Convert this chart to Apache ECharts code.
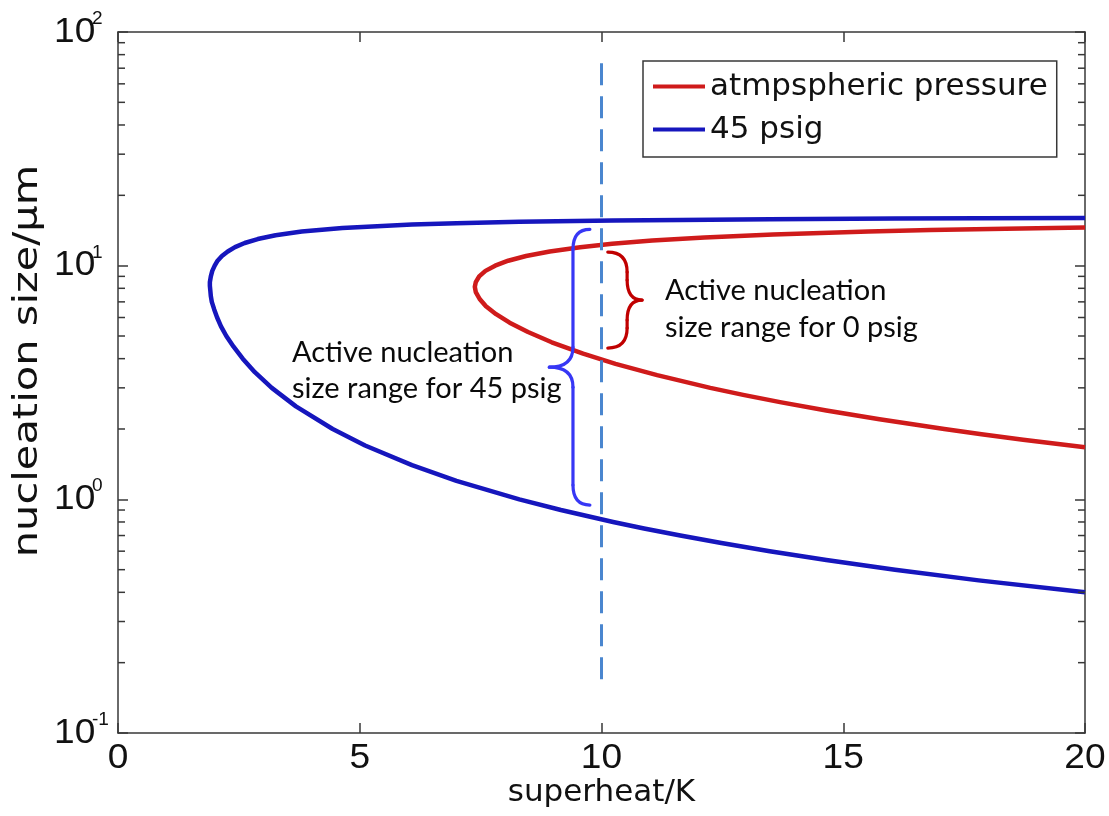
<!DOCTYPE html>
<html>
<head>
<meta charset="utf-8">
<script src="https://cdn.jsdelivr.net/npm/echarts@6/dist/echarts.min.js"></script>
<style>
  html, body { margin: 0; padding: 0; background: #fff; }
  #chart { width: 1109px; height: 816px; }
</style>
</head>
<body>
<div id="chart"></div>
<script>
// Nucleation size limits vs. wall superheat, for two system pressures.
// Each curve runs from its upper branch (large sizes) round the turning point to its lower branch.
const atmSuperheat = [20.0, 18.36, 16.8, 15.52, 13.55, 12.13, 11.05, 10.22, 9.56, 8.93, 8.44, 8.07, 7.80, 7.60, 7.47, 7.40,
                      7.38, 7.40, 7.48, 7.61, 7.82, 8.10, 8.48, 8.97, 9.62, 10.29, 11.15, 12.25, 12.93,
                      13.72, 14.65, 15.75, 17.09, 17.86, 18.72, 20.0];
const atmSize      = [14.57, 14.4, 14.2, 14.0, 13.6, 13.2, 12.8, 12.4, 12.0, 11.5, 11.0, 10.5, 10.0, 9.5, 9.0, 8.5,
                      8.12, 7.7, 7.2, 6.7, 6.2, 5.7, 5.2, 4.7, 4.2, 3.8, 3.4, 3.0, 2.8,
                      2.6, 2.4, 2.2, 2.0, 1.9, 1.8, 1.67];

const psigSuperheat = [20.0, 17.8, 16.07, 13.48, 11.63, 10.24, 8.30, 7.00, 6.08, 4.64, 3.80, 3.26, 2.89, 2.62, 2.42,
                       2.27, 2.15, 2.06, 2.00, 1.95, 1.92, 1.90, 1.90, 1.91, 1.92, 1.94, 1.99, 2.05, 2.13, 2.24,
                       2.39, 2.58, 2.83, 3.18, 3.68, 4.44, 5.11, 6.08, 7.00, 8.30, 9.16, 10.24, 10.88, 11.63,
                       12.48, 13.48, 14.65, 16.07, 17.8, 20.0];
const psigSize      = [16.0, 15.95, 15.9, 15.8, 15.7, 15.6, 15.4, 15.2, 15.0, 14.5, 14.0, 13.5, 13.0, 12.5, 12.0,
                       11.5, 11.0, 10.5, 10.0, 9.5, 9.0, 8.5, 8.2, 7.8, 7.4, 7.0, 6.5, 6.0, 5.5, 5.0,
                       4.5, 4.0, 3.5, 3.0, 2.5, 2.0, 1.7, 1.4, 1.2, 1.0, 0.9, 0.8, 0.75, 0.7,
                       0.65, 0.6, 0.55, 0.5, 0.45, 0.40];

// Superheat axis labels
const xTickValues = [0, 5, 10, 15, 20];
// Logarithmic size axis: labelled decades and minor ticks
const yDecades = [0.1, 1, 10, 100];
const yMinorTicks = [0.2, 0.3, 0.4, 0.5, 0.6, 0.7, 0.8, 0.9,
                     2, 3, 4, 5, 6, 7, 8, 9,
                     20, 30, 40, 50, 60, 70, 80, 90];

// Reference superheat (dashed line) and its vertical extent
const refSuperheat = 10;
const refSizeSpan = [0.17, 76];

// Curly braces marking the active size ranges: [end x, spine x, tip x, top size, bottom size]
const brace45 = [9.76, 9.41, 8.92, 14.3, 0.945];
const brace0  = [10.13, 10.53, 10.84, 11.43, 4.44];

const RED = '#cf1b1b';
const BLUE = '#1616bd';
const AXIS = '#383838';
const INK = '#111';
const NUM_FONT = '35px "Liberation Sans"';
const NUM_STRETCH = 1.06;

const chart = echarts.init(document.getElementById('chart'));

function zip(xs, ys) { return xs.map((x, i) => [x, ys[i]]); }

function braceRender(color) {
  return function (params, api) {
    const e = api.coord([api.value(0), api.value(3)])[0];
    const s = api.coord([api.value(1), api.value(3)])[0];
    const t = api.coord([api.value(2), api.value(3)])[0];
    const yT = api.coord([api.value(0), api.value(3)])[1];
    const yB = api.coord([api.value(0), api.value(4)])[1];
    const ym = (yT + yB) / 2;
    const r = 20;
    const st = { stroke: color, fill: null, lineWidth: 3.2, lineCap: 'round' };
    return {
      type: 'group',
      children: [
        { type: 'bezierCurve', shape: { x1: e, y1: yT, x2: s, y2: yT + r, cpx1: s, cpy1: yT }, style: st },
        { type: 'line', shape: { x1: s, y1: yT + r, x2: s, y2: ym - r }, style: st },
        { type: 'bezierCurve', shape: { x1: s, y1: ym - r, x2: t, y2: ym, cpx1: s, cpy1: ym }, style: st },
        { type: 'bezierCurve', shape: { x1: t, y1: ym, x2: s, y2: ym + r, cpx1: s, cpy1: ym }, style: st },
        { type: 'line', shape: { x1: s, y1: ym + r, x2: s, y2: yB - r }, style: st },
        { type: 'bezierCurve', shape: { x1: s, y1: yB - r, x2: e, y2: yB, cpx1: s, cpy1: yB }, style: st }
      ]
    };
  };
}

chart.setOption({
  animation: false,
  backgroundColor: '#fff',
  grid: { left: 118, right: 24, top: 32, bottom: 83, containLabel: false },
  legend: {
    orient: 'vertical',
    left: 643,
    top: 61,
    data: ['atmpspheric pressure', '45 psig'],
    icon: 'rect',
    itemWidth: 52,
    itemHeight: 4,
    itemGap: 12,
    padding: [10, 9, 12, 10],
    borderColor: AXIS,
    borderWidth: 1.5,
    backgroundColor: '#fff',
    selectedMode: false,
    textStyle: { fontFamily: 'DejaVu Sans', fontSize: 31, color: INK }
  },
  xAxis: [
    {
      type: 'value', min: 0, max: 20, interval: 5,
      name: 'superheat/K', nameLocation: 'middle', nameGap: 44,
      nameTextStyle: { fontFamily: 'DejaVu Sans', fontSize: 31, color: INK },
      axisLine: { show: true, onZero: false, lineStyle: { color: AXIS, width: 1.5 } },
      axisTick: { show: true, inside: true, length: 10, lineStyle: { color: AXIS, width: 1.5 } },
      axisLabel: { show: false },
      splitLine: { show: false }
    },
    {
      type: 'value', min: 0, max: 20, interval: 5, position: 'top',
      axisLine: { show: true, onZero: false, lineStyle: { color: AXIS, width: 1.5 } },
      axisTick: { show: true, inside: true, length: 10, lineStyle: { color: AXIS, width: 1.5 } },
      axisLabel: { show: false },
      splitLine: { show: false }
    }
  ],
  yAxis: [
    {
      type: 'log', logBase: 10, min: 0.1, max: 100,
      axisLine: { show: true, onZero: false, lineStyle: { color: AXIS, width: 1.5 } },
      axisTick: { show: true, inside: true, length: 10, lineStyle: { color: AXIS, width: 1.5 } },
      axisLabel: { show: false },
      splitLine: { show: false }
    },
    {
      type: 'log', logBase: 10, min: 0.1, max: 100, position: 'right',
      axisLine: { show: true, onZero: false, lineStyle: { color: AXIS, width: 1.5 } },
      axisTick: { show: true, inside: true, length: 10, lineStyle: { color: AXIS, width: 1.5 } },
      axisLabel: { show: false },
      splitLine: { show: false }
    }
  ],
  series: [
    {
      name: '45 psig', type: 'line', xAxisIndex: 0, yAxisIndex: 0,
      data: zip(psigSuperheat, psigSize),
      showSymbol: false, symbol: 'none', smooth: false,
      lineStyle: { color: BLUE, width: 4.5, join: 'round' }, itemStyle: { color: BLUE }, z: 3
    },
    {
      name: 'atmpspheric pressure', type: 'line', xAxisIndex: 0, yAxisIndex: 0,
      data: zip(atmSuperheat, atmSize),
      showSymbol: false, symbol: 'none', smooth: false,
      lineStyle: { color: RED, width: 4.5, join: 'round' }, itemStyle: { color: RED }, z: 3
    },
    {
      name: 'reference superheat', type: 'line', xAxisIndex: 0, yAxisIndex: 0,
      data: refSizeSpan.map(v => [refSuperheat, v]),
      showSymbol: false, symbol: 'none',
      lineStyle: { color: '#4a86cf', width: 3, type: [22, 11] }, z: 4
    },
    {
      // minor ticks on both vertical edges
      name: 'minor ticks', type: 'custom', xAxisIndex: 0, yAxisIndex: 0,
      data: yMinorTicks.map(v => [0, v]),
      encode: { x: 0, y: 1 },
      silent: true, z: 5,
      renderItem: function (params, api) {
        const cs = params.coordSys;
        const y = api.coord([0, api.value(1)])[1];
        const st = { stroke: AXIS, lineWidth: 1.5 };
        return {
          type: 'group',
          children: [
            { type: 'line', shape: { x1: cs.x, y1: y, x2: cs.x + 7, y2: y }, style: st },
            { type: 'line', shape: { x1: cs.x + cs.width - 7, y1: y, x2: cs.x + cs.width, y2: y }, style: st }
          ]
        };
      }
    },
    {
      // decade labels 10^n on the size axis
      name: 'decade labels', type: 'custom', xAxisIndex: 0, yAxisIndex: 0,
      data: yDecades.map(v => [0, v]),
      encode: { x: 0, y: 1 },
      silent: true, z: 5,
      renderItem: function (params, api) {
        const cs = params.coordSys;
        const v = api.value(1);
        const y = api.coord([0, v])[1];
        const exp = String(Math.round(Math.log10(v)));
        const x0 = cs.x - 64;
        return {
          type: 'group',
          children: [
            { type: 'text', x: x0, y: y, scaleX: NUM_STRETCH,
              style: { text: '10', font: NUM_FONT, fill: INK, align: 'left', verticalAlign: 'middle' } },
            { type: 'text', x: x0 + 38, y: y - 13, scaleX: NUM_STRETCH,
              style: { text: exp, font: '18px "Liberation Sans"', fill: INK, align: 'left', verticalAlign: 'middle' } }
          ]
        };
      }
    },
    {
      // superheat tick labels
      name: 'superheat labels', type: 'custom', xAxisIndex: 0, yAxisIndex: 0,
      data: xTickValues.map(v => [v, 1]),
      encode: { x: 0, y: 1 },
      silent: true, z: 5,
      renderItem: function (params, api) {
        const cs = params.coordSys;
        const x = api.coord([api.value(0), 1])[0];
        return {
          type: 'text', x: x, y: cs.y + cs.height + 25, scaleX: NUM_STRETCH,
          style: { text: String(api.value(0)), font: NUM_FONT, fill: INK, align: 'center', verticalAlign: 'middle' }
        };
      }
    },
    {
      name: 'range 45', type: 'custom', xAxisIndex: 0, yAxisIndex: 0,
      data: [brace45], encode: { x: [0, 1, 2], y: [3, 4] }, silent: true, z: 6,
      renderItem: braceRender('#3737f5')
    },
    {
      name: 'range 0', type: 'custom', xAxisIndex: 0, yAxisIndex: 0,
      data: [brace0], encode: { x: [0, 1, 2], y: [3, 4] }, silent: true, z: 6,
      renderItem: braceRender('#c00000')
    }
  ],
  graphic: [
    {
      // size axis title
      type: 'text', x: 28, y: 361, rotation: Math.PI / 2, scaleX: 1.26, z: 10,
      style: {
        text: 'nucleation size/μm',
        font: '33px "DejaVu Sans"', fill: INK,
        align: 'center', verticalAlign: 'middle'
      }
    },
    {
      type: 'text', left: 292, top: 335, z: 10,
      style: {
        text: 'Active nucleation\nsize range for 45 psig',
        font: '29px Lato', lineHeight: 36, fill: '#0a0a0a'
      }
    },
    {
      type: 'text', left: 665, top: 272, z: 10,
      style: {
        text: 'Active nucleation\nsize range for 0 psig',
        font: '29px Lato', lineHeight: 37, fill: '#0a0a0a'
      }
    }
  ]
});
</script>
</body>
</html>
